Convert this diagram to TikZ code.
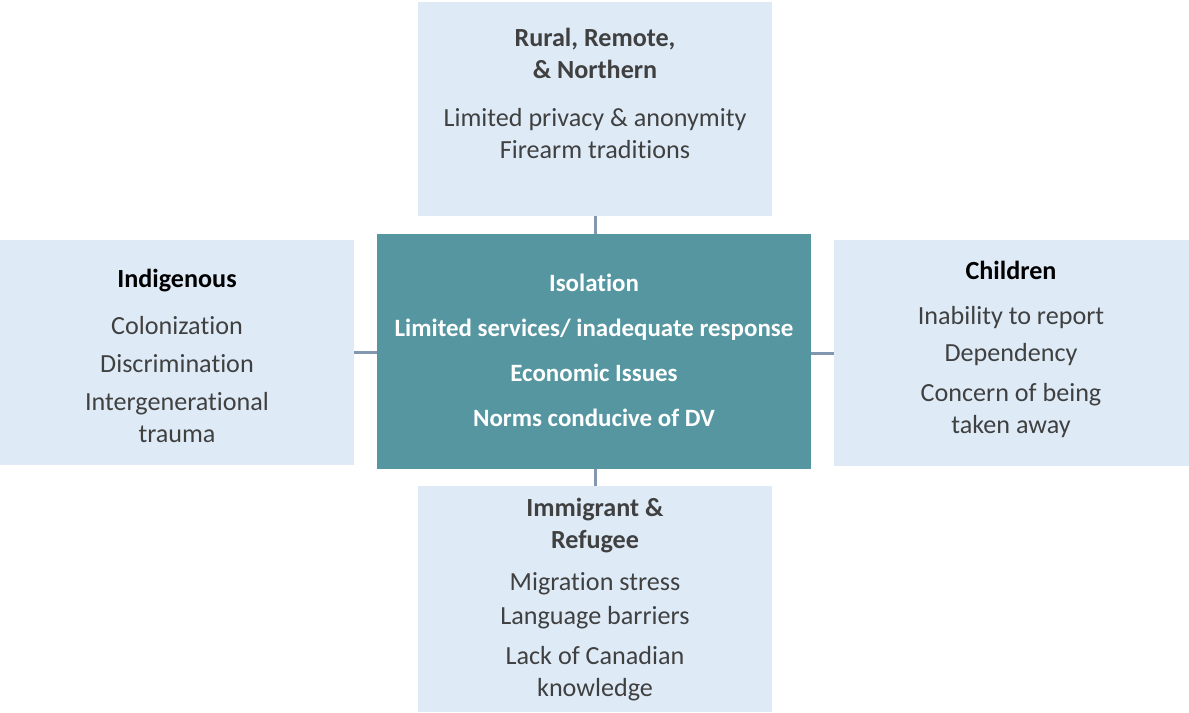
\documentclass[tikz,border=0pt]{standalone}
\usepackage{fontspec}
\setmainfont[Ligatures=NoCommon]{Carlito}
\usepackage{tikz}
\definecolor{paleblue}{HTML}{DEEBF7}
\definecolor{coreteal}{HTML}{5596A1}
\definecolor{linkgrey}{HTML}{8497B0}
\definecolor{textgrey}{HTML}{404040}

\begin{document}
\begin{tikzpicture}[x=0.75pt,y=-0.75pt]
                \tikzstyle{every node}+=[inner sep=0pt]
                \tikzstyle{sidebox}=[fill=paleblue, draw=none]
                \tikzstyle{corebox}=[fill=coreteal, draw=none]
                \tikzstyle{boxtext}=[align=center, text=textgrey, font=\fontsize{19.6}{24}\selectfont]
                \tikzstyle{link}=[draw=linkgrey, line width=2.25pt]
                \useasboundingbox (0,0) rectangle (1189,713);
                % boxes
                \node [sidebox, minimum width=354*0.75pt, minimum height=214*0.75pt] (rural) at (595,109) {};
                \node [corebox, minimum width=434*0.75pt, minimum height=235*0.75pt] (core) at (594,351.5) {};
                \node [sidebox, minimum width=354*0.75pt, minimum height=225*0.75pt] (indig) at (177,352.5) {};
                \node [sidebox, minimum width=355*0.75pt, minimum height=226*0.75pt] (child) at (1011.5,353) {};
                \node [sidebox, minimum width=354*0.75pt, minimum height=226*0.75pt] (immig) at (595,599) {};
                % connectors
                \draw [link] (rural.south) -- (core.north -| rural.south);
                \draw [link] (core.south -| immig.north) -- (immig.north);
                \draw [link] (indig.east) -- (indig.east -| core.west);
                \draw [link] (child.west) -- (child.west -| core.east);
                % texts
                \node [boxtext] (ruraltext) at (595,93) {\textbf{Rural, Remote,}\\\textbf{\& Northern}\\[12pt]Limited privacy \& anonymity\\Firearm traditions};
                \node [boxtext] (indigtext) at (177,356) {\textcolor{black}{\textbf{Indigenous}}\\[11pt]Colonization\\[4.5pt]Discrimination\\[5pt]Intergenerational\\trauma};
                \node [boxtext] (childtext) at (1011,349) {\textcolor{black}{\textbf{Children}}\\[10pt]Inability to report\\[4pt]Dependency\\[5.5pt]Concern of being\\taken away};
                \node [boxtext] (immigtext) at (595,600) {\textbf{Immigrant \&}\\\textbf{Refugee}\\[7pt]Migration stress\\[2pt]Language barriers\\[6pt]Lack of Canadian\\knowledge};
                \node [boxtext, text=white, font=\bfseries\fontsize{18.7}{24}\selectfont] (coretext) at (594,350) {Isolation\\[9.75pt]Limited services/ inadequate response\\[9.75pt]Economic Issues\\[9.75pt]Norms conducive of DV};
\end{tikzpicture}
\end{document}
